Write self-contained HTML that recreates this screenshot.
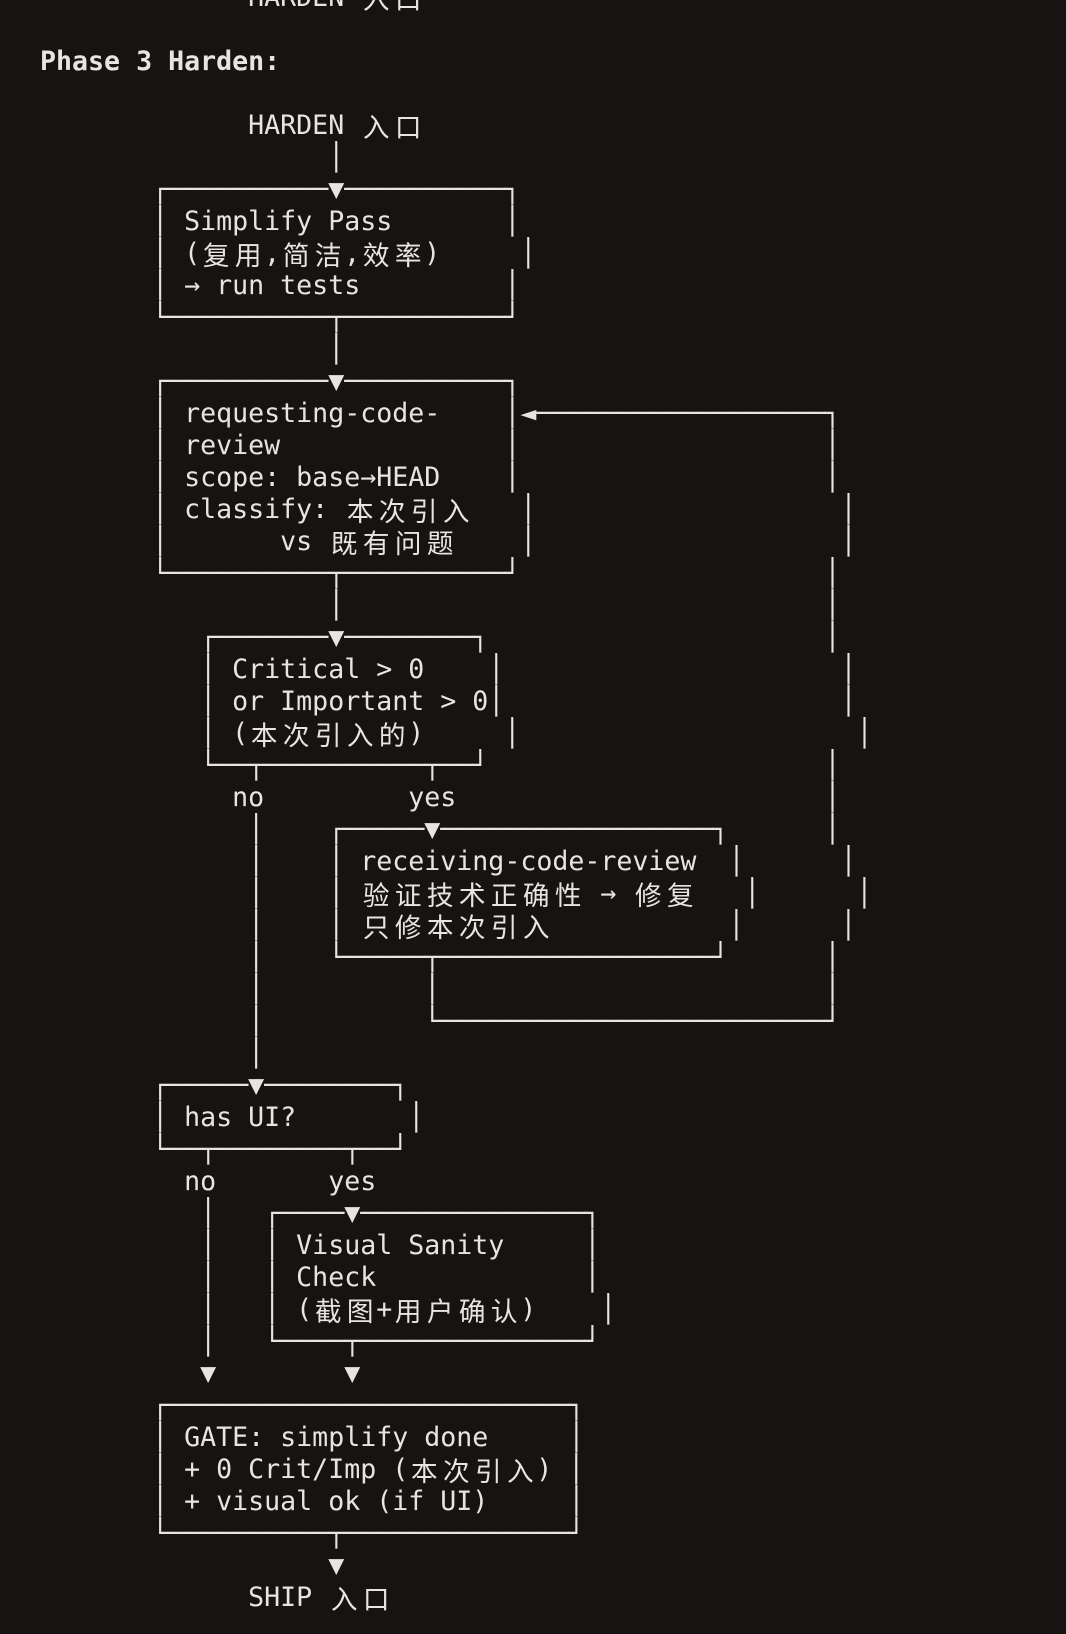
<!DOCTYPE html>
<html><head><meta charset="utf-8">
<style>
html,body{margin:0;padding:0;background:#161312;}
body{width:1066px;height:1634px;overflow:hidden;position:relative;}
pre{position:absolute;left:40px;top:-18.5px;margin:0;font-family:"DejaVu Sans Mono","Liberation Mono",monospace;font-size:26.6px;line-height:32px;color:#e8e5e1;white-space:pre;}
i{font-style:normal;display:inline-block;width:32px;text-align:center;font-family:"Noto Sans CJK SC","WenQuanYi Zen Hei",sans-serif;line-height:32px;vertical-align:top;}
b{font-weight:bold;}
</style></head><body>
<pre>             HARDEN <i>入</i><i>口</i>

<b>Phase 3 Harden:</b>

             HARDEN <i>入</i><i>口</i>
                  │
       ┌──────────▼──────────┐
       │ Simplify Pass       │
       │ (<i>复</i><i>用</i>,<i>简</i><i>洁</i>,<i>效</i><i>率</i>)     │
       │ → run tests         │
       └──────────┬──────────┘
                  │
       ┌──────────▼──────────┐
       │ requesting-code-    │◄──────────────────┐
       │ review              │                   │
       │ scope: base→HEAD    │                   │
       │ classify: <i>本</i><i>次</i><i>引</i><i>入</i>   │                   │
       │       vs <i>既</i><i>有</i><i>问</i><i>题</i>    │                   │
       └──────────┬──────────┘                   │
                  │                              │
          ┌───────▼────────┐                     │
          │ Critical > 0    │                     │
          │ or Important > 0│                     │
          │ (<i>本</i><i>次</i><i>引</i><i>入</i><i>的</i>)     │                     │
          └──┬──────────┬──┘                     │
            no         yes                       │
             │    ┌─────▼─────────────────┐      │
             │    │ receiving-code-review  │      │
             │    │ <i>验</i><i>证</i><i>技</i><i>术</i><i>正</i><i>确</i><i>性</i> → <i>修</i><i>复</i>   │      │
             │    │ <i>只</i><i>修</i><i>本</i><i>次</i><i>引</i><i>入</i>           │      │
             │    └─────┬─────────────────┘      │
             │          │                        │
             │          └────────────────────────┘
             │
       ┌─────▼────────┐
       │ has UI?       │
       └──┬────────┬──┘
         no       yes
          │   ┌────▼──────────────┐
          │   │ Visual Sanity     │
          │   │ Check             │
          │   │ (<i>截</i><i>图</i>+<i>用</i><i>户</i><i>确</i><i>认</i>)    │
          │   └────┬──────────────┘
          ▼        ▼
       ┌─────────────────────────┐
       │ GATE: simplify done     │
       │ + 0 Crit/Imp (<i>本</i><i>次</i><i>引</i><i>入</i>) │
       │ + visual ok (if UI)     │
       └──────────┬──────────────┘
                  ▼
             SHIP <i>入</i><i>口</i></pre>
</body></html>
